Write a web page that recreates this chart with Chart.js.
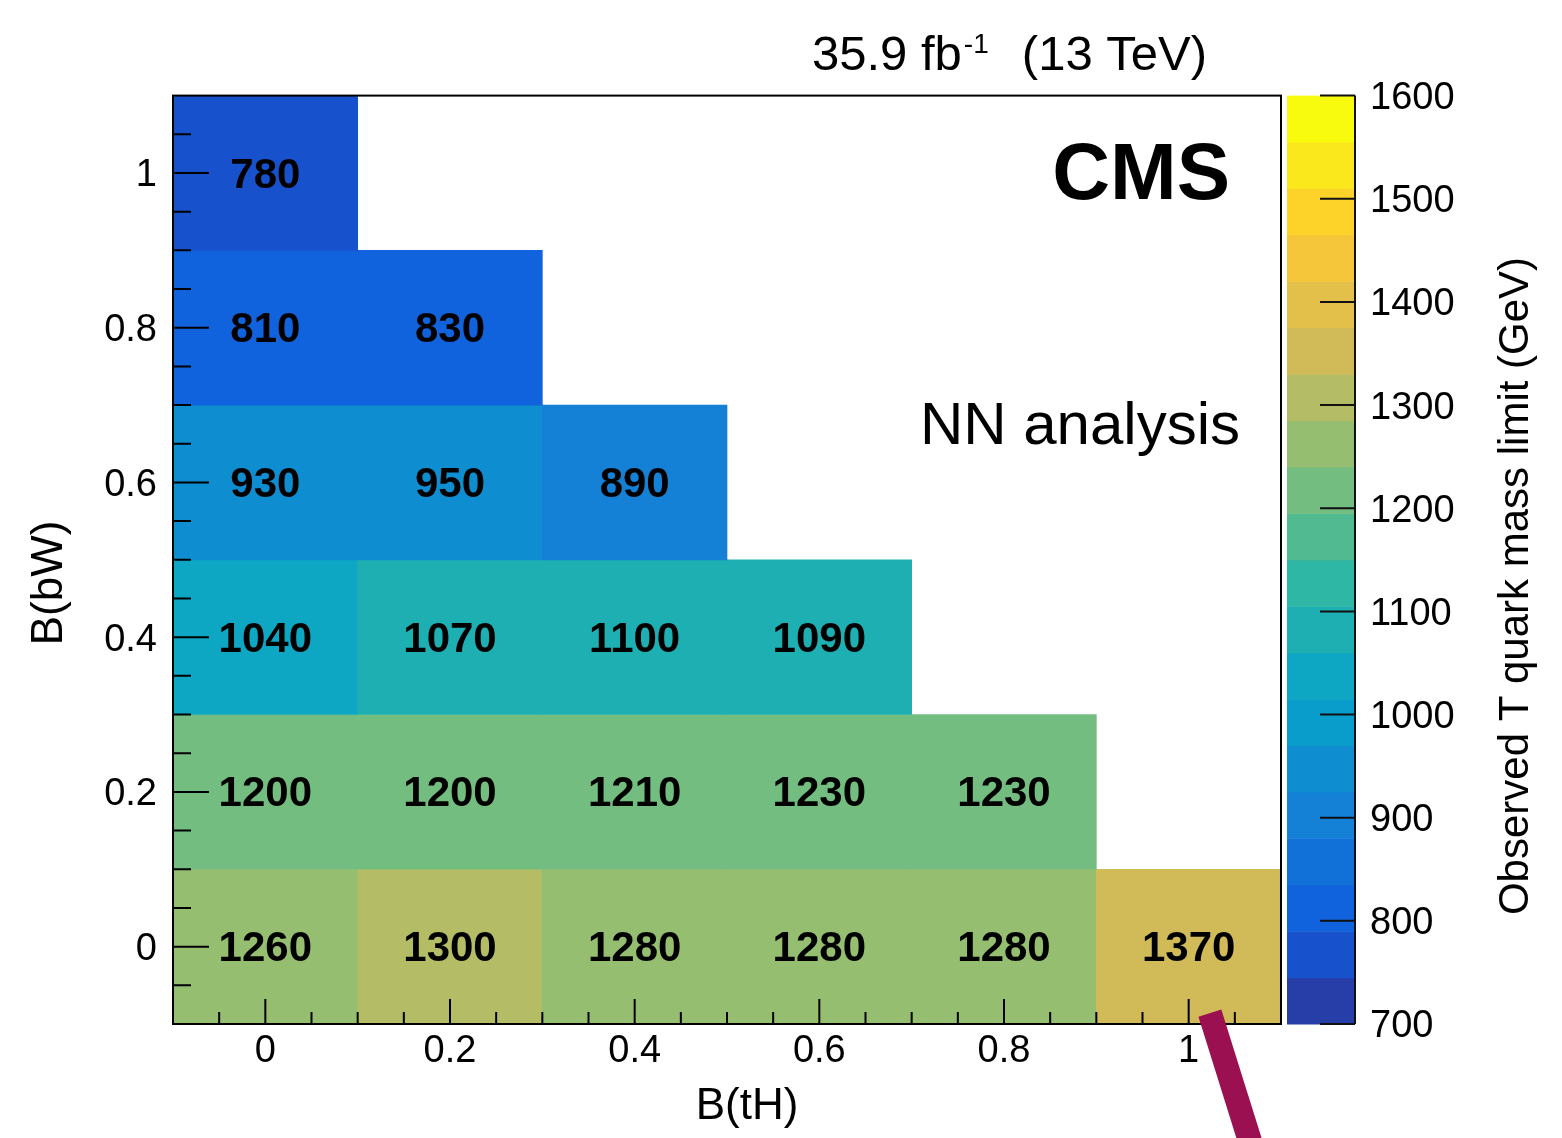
<!DOCTYPE html>
<html><head><meta charset="utf-8">
<script src="https://cdn.jsdelivr.net/npm/chart.js@4.4.1/dist/chart.umd.min.js"></script>
<style>html,body{margin:0;padding:0;background:#fff;}canvas{display:block;}</style>
</head><body>
<canvas id="c" width="1562" height="1138"></canvas>
<script>
// ---------------- data ----------------
const xCategories = [0, 0.2, 0.4, 0.6, 0.8, 1];          // B(tH) bin centres
const xTickLabels = ['0', '0.2', '0.4', '0.6', '0.8', '1'];
const yCategories = [0, 0.2, 0.4, 0.6, 0.8, 1];          // B(bW) bin centres
const yTickLabels = ['0', '0.2', '0.4', '0.6', '0.8', '1'];
// observed T quark mass limits (GeV), one array per B(bW) row, ordered by B(tH)
const limitsBW00 = [1260, 1300, 1280, 1280, 1280, 1370];
const limitsBW02 = [1200, 1200, 1210, 1230, 1230];
const limitsBW04 = [1040, 1070, 1100, 1090];
const limitsBW06 = [930, 950, 890];
const limitsBW08 = [810, 830];
const limitsBW10 = [780];
const zTickValues = [700, 800, 900, 1000, 1100, 1200, 1300, 1400, 1500, 1600];
const zTickLabels = ['700', '800', '900', '1000', '1100', '1200', '1300', '1400', '1500', '1600'];
const zMin = 700, zMax = 1600, nContours = 20;

// ---------------- palette (ROOT kBird) ----------------
const birdStops = [0, 0.125, 0.25, 0.375, 0.5, 0.625, 0.75, 0.875, 1];
const birdR = [0.2082, 0.0592, 0.0780, 0.0232, 0.1802, 0.5301, 0.8186, 0.9956, 0.9764];
const birdG = [0.1664, 0.3599, 0.5041, 0.6419, 0.7178, 0.7492, 0.7328, 0.7862, 0.9832];
const birdB = [0.5293, 0.8684, 0.8385, 0.7914, 0.6425, 0.4662, 0.3499, 0.1968, 0.0539];
function birdAt(t) {
  let k = 0;
  while (k < birdStops.length - 2 && t > birdStops[k + 1]) k++;
  const f = (t - birdStops[k]) / (birdStops[k + 1] - birdStops[k]);
  const c = a => Math.round(255 * (a[k] + f * (a[k + 1] - a[k])));
  return `rgb(${c(birdR)},${c(birdG)},${c(birdB)})`;
}
function bandColor(i) {
  const idx = Math.floor((i + 0.99) * 255 / nContours);
  return birdAt(idx / 254);
}
function valueColor(v) {
  let i = Math.floor((v - zMin) / ((zMax - zMin) / nContours));
  i = Math.max(0, Math.min(nContours - 1, i));
  return bandColor(i);
}

// ---------------- build cells ----------------
const rows = [limitsBW00, limitsBW02, limitsBW04, limitsBW06, limitsBW08, limitsBW10];
const halfX = (xCategories[1] - xCategories[0]) / 2;
const halfY = (yCategories[1] - yCategories[0]) / 2;
const cells = [];
rows.forEach((row, r) => {
  row.forEach((v, c) => {
    cells.push({ x: xCategories[c], y: [yCategories[r] - halfY, yCategories[r] + halfY], v });
  });
});

const FONT = '"Liberation Sans", Arial, Helvetica, sans-serif';

const cmsPlugin = {
  id: 'cmsDecor',
  afterDatasetsDraw(chart) {
    const ctx = chart.ctx, ca = chart.chartArea;
    const xs = chart.scales.x, ys = chart.scales.y, zs = chart.scales.z;
    ctx.save();
    // cell labels
    const meta = chart.getDatasetMeta(0);
    ctx.font = 'bold 42px ' + FONT;
    ctx.fillStyle = '#000';
    ctx.textAlign = 'center';
    ctx.textBaseline = 'middle';
    meta.data.forEach((el, i) => {
      const raw = chart.data.datasets[0].data[i];
      ctx.fillText(String(raw.v), el.x, (el.y + el.base) / 2 + 3);
    });
    // frame
    ctx.strokeStyle = '#000';
    ctx.lineWidth = 2;
    ctx.strokeRect(ca.left, ca.top, ca.right - ca.left, ca.bottom - ca.top);
    // x ticks (inside)
    ctx.lineWidth = 2;
    ctx.beginPath();
    for (let k = -2; k <= 22; k++) {
      const v = k * 0.05;
      if (v <= xs.min + 1e-9 || v >= xs.max - 1e-9) continue;
      const px = xs.getPixelForValue(v);
      const major = (k % 4 === 0);
      ctx.moveTo(px, ca.bottom);
      ctx.lineTo(px, ca.bottom - (major ? 25 : 12));
    }
    // y ticks (inside)
    for (let k = -2; k <= 22; k++) {
      const v = k * 0.05;
      if (v <= ys.min + 1e-9 || v >= ys.max - 1e-9) continue;
      const py = ys.getPixelForValue(v);
      const major = (k % 4 === 0);
      ctx.moveTo(ca.left, py);
      ctx.lineTo(ca.left + (major ? 36 : 18), py);
    }
    ctx.stroke();

    // colour bar
    const bx0 = ca.right + 6, bx1 = ca.right + 74;
    const step = (zMax - zMin) / nContours;
    for (let i = 0; i < nContours; i++) {
      const yTop = zs.getPixelForValue(zMin + (i + 1) * step);
      const yBot = zs.getPixelForValue(zMin + i * step);
      ctx.fillStyle = bandColor(i);
      ctx.fillRect(bx0, yTop, bx1 - bx0, yBot - yTop + 0.5);
    }
    ctx.strokeStyle = '#111';
    ctx.lineWidth = 2;
    ctx.beginPath();
    ctx.moveTo(bx1, zs.getPixelForValue(zMax));
    ctx.lineTo(bx1, zs.getPixelForValue(zMin));
    zTickValues.forEach(v => {
      const py = zs.getPixelForValue(v);
      ctx.moveTo(bx1 - 35, py);
      ctx.lineTo(bx1, py);
    });
    ctx.stroke();

    // texts
    ctx.fillStyle = '#000';
    ctx.textBaseline = 'alphabetic';
    // luminosity label
    ctx.font = '49px ' + FONT;
    ctx.textAlign = 'left';
    ctx.fillText('35.9 fb', 812, 70);
    const w1 = ctx.measureText('35.9 fb').width;
    ctx.font = '28px ' + FONT;
    ctx.fillText('-1', 812 + w1 + 2, 53);
    ctx.font = '49px ' + FONT;
    ctx.textAlign = 'right';
    ctx.fillText('(13 TeV)', 1207, 70);
    // CMS
    ctx.font = 'bold 80px ' + FONT;
    ctx.textAlign = 'right';
    ctx.fillText('CMS', 1230, 199);
    // NN analysis
    ctx.font = '60px ' + FONT;
    ctx.textAlign = 'right';
    ctx.fillText('NN analysis', 1240, 444);
    // axis titles
    ctx.font = '44px ' + FONT;
    ctx.textAlign = 'center';
    ctx.fillText('B(tH)', 747, 1119);
    ctx.save();
    ctx.translate(62, 583);
    ctx.rotate(-Math.PI / 2);
    ctx.fillText('B(bW)', 0, 0);
    ctx.restore();
    ctx.save();
    ctx.font = '42px ' + FONT;
    ctx.translate(1528, 586);
    ctx.rotate(-Math.PI / 2);
    ctx.fillText('Observed T quark mass limit (GeV)', 0, 0);
    ctx.restore();
    ctx.restore();
  },
  afterDraw(chart) {
    // highlight stroke pointing at the B(tH)=1 tick
    const ctx = chart.ctx, xs = chart.scales.x, ys = chart.scales.y;
    const x0 = xs.getPixelForValue(1.023), y0 = ys.getPixelForValue(-0.086);
    const y1 = 1175, x1 = x0 + (y1 - y0) * 0.313;
    ctx.save();
    ctx.strokeStyle = '#9b1050';
    ctx.lineWidth = 24;
    ctx.lineCap = 'butt';
    ctx.beginPath();
    ctx.moveTo(x0, y0);
    ctx.lineTo(x1, y1);
    ctx.stroke();
    ctx.restore();
  }
};

const tickFont = { family: FONT, size: 38 };
const noPad = s => { s.paddingTop = 0; s.paddingBottom = 0; s.paddingLeft = 0; s.paddingRight = 0; };

new Chart(document.getElementById('c'), {
  type: 'bar',
  data: {
    datasets: [{
      data: cells,
      backgroundColor: c => valueColor(c.raw ? c.raw.v : zMin),
      borderWidth: 0,
      barPercentage: 1,
      categoryPercentage: 1
    }]
  },
  options: {
    responsive: false,
    animation: false,
    devicePixelRatio: 1,
    layout: { padding: { top: 95.6, left: 0, right: 0, bottom: 0 } },
    plugins: { legend: { display: false }, tooltip: { enabled: false }, title: { display: false } },
    scales: {
      x: {
        type: 'linear', min: -0.1, max: 1.1, offset: false,
        grid: { display: false, drawTicks: false }, border: { display: false },
        afterBuildTicks: s => { s.ticks = xCategories.map(v => ({ value: v })); },
        afterFit: s => { s.height = 114; noPad(s); },
        ticks: { font: tickFont, color: '#000', padding: 5, maxRotation: 0, autoSkip: false,
                 callback: (v, i) => xTickLabels[i] }
      },
      y: {
        type: 'linear', min: -0.1, max: 1.1,
        grid: { display: false, drawTicks: false }, border: { display: false },
        afterBuildTicks: s => { s.ticks = yCategories.map(v => ({ value: v })); },
        afterFit: s => { s.width = 173; noPad(s); },
        ticks: { font: tickFont, color: '#000', padding: 16, autoSkip: false, labelOffset: 3,
                 callback: (v, i) => yTickLabels[i] }
      },
      z: {
        type: 'linear', position: 'right', min: zMin, max: zMax,
        grid: { display: false, drawTicks: false }, border: { display: false },
        afterBuildTicks: s => { s.ticks = zTickValues.map(v => ({ value: v })); },
        afterFit: s => { s.width = 281; noPad(s); },
        ticks: { font: tickFont, color: '#000', padding: 89, autoSkip: false, labelOffset: 3,
                 callback: (v, i) => zTickLabels[i] }
      }
    }
  },
  plugins: [cmsPlugin]
});
</script>
</body></html>
